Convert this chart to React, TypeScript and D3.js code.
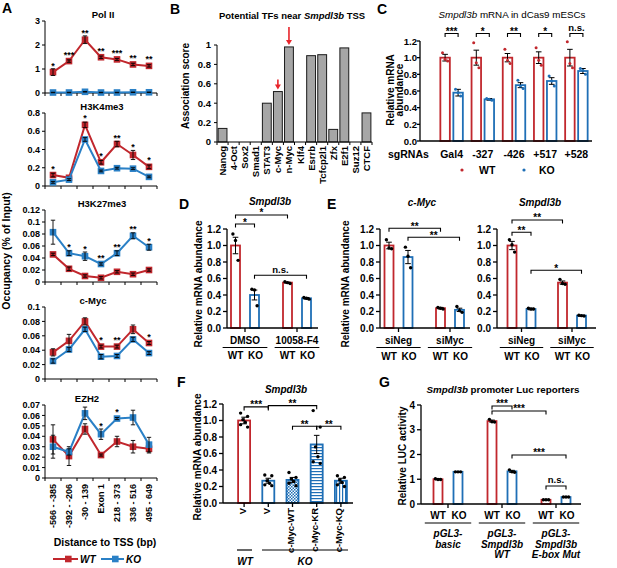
import React from "react";
import * as d3 from "d3";

const RED = "#c1272d";
const BLUE = "#1f6fb6";
const ABLUE = "#2a80c6";
const FONT = "'Liberation Sans', Arial, Helvetica, sans-serif";

// ---------- A: ChIP-qPCR along the promoter ----------
const distLabels = ["-566 - -385", "-392 - -206", "-30 - 139", "Exon 1", "218 - 373", "336 - 516", "495 - 649"];

const polWT = [0.87, 1.33, 2.22, 1.49, 1.4, 1.19, 1.13];
const polWTErr = [0.14, 0.05, 0.16, 0.05, 0.04, 0.05, 0.05];
const polKO = [0.02, 0.02, 0.05, 0.02, 0.02, 0.03, 0.03];
const polKOErr = [0.01, 0.01, 0.01, 0.01, 0.01, 0.01, 0.01];
const polStars = ["*", "***", "**", "**", "***", "**", "**"];

const k4WT = [0.12, 0.09, 0.67, 0.26, 0.46, 0.34, 0.21];
const k4WTErr = [0.02, 0.01, 0.03, 0.02, 0.03, 0.05, 0.02];
const k4KO = [0.04, 0.07, 0.51, 0.165, 0.195, 0.19, 0.1];
const k4KOErr = [0.01, 0.01, 0.02, 0.01, 0.01, 0.01, 0.01];
const k4Stars = ["*", "", "*", "*", "**", "*", "*"];

const k27WT = [0.046, 0.022, 0.01, 0.007, 0.017, 0.013, 0.02];
const k27WTErr = [0.002, 0.003, 0.002, 0.002, 0.002, 0.002, 0.002];
const k27KO = [0.083, 0.048, 0.043, 0.03, 0.048, 0.077, 0.058];
const k27KOErr = [0.02, 0.004, 0.007, 0.002, 0.004, 0.005, 0.005];
const k27Stars = ["", "*", "*", "**", "**", "**", "*"];

const mycWT = [0.037, 0.053, 0.08, 0.045, 0.045, 0.069, 0.05];
const mycWTErr = [0.005, 0.009, 0.005, 0.002, 0.002, 0.006, 0.002];
const mycKO = [0.025, 0.041, 0.069, 0.031, 0.032, 0.055, 0.036];
const mycKOErr = [0.003, 0.003, 0.003, 0.003, 0.002, 0.003, 0.002];
const mycStars = ["", "", "", "*", "**", "", "*"];

const ezhWT = [0.037, 0.021, 0.047, 0.022, 0.035, 0.03, 0.028];
const ezhWTErr = [0.014, 0.009, 0.005, 0.001, 0.005, 0.006, 0.004];
const ezhKO = [0.03, 0.025, 0.062, 0.042, 0.057, 0.058, 0.032];
const ezhKOErr = [0.011, 0.003, 0.006, 0.005, 0.001, 0.007, 0.007];
const ezhStars = ["", "", "", "*", "*", "", ""];

// ---------- B: association scores ----------
const tfNames = ["Nanog", "4-Oct", "Sox2", "Smad1", "STAT3", "c-Myc", "n-Myc", "Klf4", "Esrrb", "Tcfcp2l1", "Zfx", "E2f1", "Suz12", "CTCF"];
const tfScores = [0.14, 0, 0, 0, 0.4, 0.52, 0.98, 0, 0.89, 0.9, 0.13, 0.97, 0, 0.3];
const tfArrows = ["c-Myc", "n-Myc"];

// ---------- C: dCas9 sgRNAs ----------
const cGroups = ["Gal4", "-327", "-426", "+517", "+528"];
const cWT = [1, 1, 1, 1, 1];
const cWTErr = [0.04, 0.09, 0.05, 0.07, 0.1];
const cKO = [0.58, 0.5, 0.67, 0.72, 0.84];
const cKOErr = [0.04, 0.01, 0.03, 0.04, 0.03];
const cWTDots = [[1.06, 0.98, 0.96], [1.18, 0.94, 0.88], [1.1, 0.97, 0.93], [1.12, 0.97, 0.91], [1.19, 0.93, 0.88]];
const cKODots = [[0.62, 0.58, 0.54], [0.51, 0.5, 0.49], [0.73, 0.66, 0.63], [0.78, 0.72, 0.66], [0.87, 0.85, 0.8]];
const cSig = ["***", "*", "**", "*", "n.s."];

// ---------- D: 10058-F4 ----------
const dGroups = ["DMSO", "10058-F4"];
const dWT = [1.0, 0.55];
const dWTErr = [0.1, 0.006];
const dKO = [0.4, 0.36];
const dKOErr = [0.06, 0.01];
const dWTDots = [[1.14, 1.06, 0.82], [0.56, 0.55, 0.54]];
const dKODots = [[0.47, 0.46, 0.27], [0.37, 0.36, 0.35]];

// ---------- E: siRNA ----------
const eGroups = ["siNeg", "siMyc"];
const eMycWT = [1.0, 0.24];
const eMycWTErr = [0.04, 0.01];
const eMycKO = [0.86, 0.22];
const eMycKOErr = [0.08, 0.02];
const eMycWTDots = [[1.07, 0.97, 0.96], [0.25, 0.24, 0.23]];
const eMycKODots = [[0.98, 0.87, 0.73], [0.26, 0.21, 0.19]];
const eSmWT = [1.0, 0.55];
const eSmWTErr = [0.05, 0.02];
const eSmKO = [0.23, 0.15];
const eSmKOErr = [0.01, 0.005];
const eSmWTDots = [[1.07, 1.01, 0.92], [0.59, 0.54, 0.53]];
const eSmKODots = [[0.24, 0.23, 0.23], [0.155, 0.15, 0.145]];

// ---------- F: c-Myc rescue ----------
const fKeys = ["WT-V", "KO-V", "c-Myc-WT", "c-Myc-KR", "c-Myc-KQ"];
const fLabels = ["V", "V", "c-Myc-WT", "c-Myc-KR", "c-Myc-KQ"];
const fVals = [1.0, 0.27, 0.28, 0.71, 0.27];
const fErrs = [0.04, 0.03, 0.03, 0.11, 0.03];
const fDots = [
  [1.09, 1.05, 1.01, 0.98, 0.95, 0.92],
  [0.34, 0.33, 0.27, 0.24, 0.22, 0.21],
  [0.37, 0.31, 0.29, 0.26, 0.24, 0.21],
  [1.12, 0.92, 0.68, 0.56, 0.5, 0.48],
  [0.33, 0.31, 0.28, 0.25, 0.22, 0.2],
];

// ---------- G: luciferase ----------
const gGroups = ["basic", "WT", "Mut"];
const gNames = [["pGL3-", "basic"], ["pGL3-", "Smpdl3b", "WT"], ["pGL3-", "Smpdl3b", "E-box Mut"]];
const gWT = [1.0, 3.35, 0.17];
const gWTErr = [0.02, 0.04, 0.01];
const gKO = [1.3, 1.32, 0.28];
const gKOErr = [0.01, 0.04, 0.01];
const gWTDots = [[1.02, 0.99, 0.99], [3.42, 3.32, 3.31], [0.17, 0.17, 0.17]];
const gKODots = [[1.3, 1.3, 1.3], [1.38, 1.3, 1.28], [0.28, 0.28, 0.28]];

const fmtNum = (v) => String(+v.toFixed(3));

function ErrBar({ x, lo, hi, w = 2.6, sw = 1 }) {
  return (
    <g stroke="#000" strokeWidth={sw}>
      <line x1={x} x2={x} y1={lo} y2={hi} />
      <line x1={x - w} x2={x + w} y1={hi} y2={hi} />
      <line x1={x - w} x2={x + w} y1={lo} y2={lo} />
    </g>
  );
}

function ChipPanel({ title, wt, wtErr, ko, koErr, stars, max, nTicks, top, bottom, titleX, last }) {
  const x = d3.scaleBand().domain(distLabels).range([45, 157]);
  const cx = (i) => x(distLabels[i]) + x.bandwidth() / 2;
  const y = d3.scaleLinear().domain([0, max]).range([bottom, top]);
  const ticks = y.ticks(nTicks);
  const line = d3.line().x((_, i) => cx(i)).y((d) => y(d));
  const series = [
    { v: wt, e: wtErr, c: RED },
    { v: ko, e: koErr, c: ABLUE },
  ];
  return (
    <g>
      <text x={titleX} y={top - 3} textAnchor="middle" fontSize={9.5} fontWeight="bold">{title}</text>
      <line x1={45} x2={45} y1={bottom} y2={top} stroke="#000" />
      {ticks.map((t) => (
        <g key={t}>
          <line x1={42} x2={45} y1={y(t)} y2={y(t)} stroke="#000" />
          <text x={40} y={y(t) + 3.2} textAnchor="end" fontSize={9} fontWeight="bold">{fmtNum(t)}</text>
        </g>
      ))}
      <line x1={45} x2={157} y1={bottom} y2={bottom} stroke="#000" />
      {d3.range(distLabels.length + 1).map((i) => (
        <line key={i} x1={45 + i * x.step()} x2={45 + i * x.step()} y1={bottom} y2={bottom + 3} stroke="#000" />
      ))}
      {series.map((s) => (
        <g key={s.c}>
          <path d={line(s.v)} fill="none" stroke={s.c} strokeWidth={2} />
          {s.v.map((v, i) => (
            <rect key={i} x={cx(i) - 3.3} y={y(v) - 3.3} width={6.6} height={6.6} fill={s.c} />
          ))}
          {s.v.map((v, i) => (
            <ErrBar key={"e" + i} x={cx(i)} lo={y(v - s.e[i])} hi={y(v + s.e[i])} w={2.2} sw={0.9} />
          ))}
        </g>
      ))}
      {stars.map((s, i) => {
        const yt = Math.min(y(wt[i] + wtErr[i]), y(ko[i] + koErr[i]), y(Math.max(wt[i], ko[i])) - 3.5);
        return (
          <text key={i} x={cx(i)} y={yt} textAnchor="middle" fontSize={9} fontWeight="bold">{s}</text>
        );
      })}
      {last &&
        distLabels.map((d, i) => (
          <text key={d} transform={`translate(${cx(i) + 3.3},${bottom + 6}) rotate(-90)`} textAnchor="end" fontSize={9} fontWeight="bold">{d}</text>
        ))}
    </g>
  );
}

function PanelA() {
  const panels = [
    { title: "Pol II", wt: polWT, wtErr: polWTErr, ko: polKO, koErr: polKOErr, stars: polStars, max: 3, nTicks: 3, top: 21, bottom: 93, titleX: 103 },
    { title: "H3K4me3", wt: k4WT, wtErr: k4WTErr, ko: k4KO, koErr: k4KOErr, stars: k4Stars, max: 0.8, nTicks: 4, top: 113, bottom: 186, titleX: 102 },
    { title: "H3K27me3", wt: k27WT, wtErr: k27WTErr, ko: k27KO, koErr: k27KOErr, stars: k27Stars, max: 0.12, nTicks: 6, top: 210, bottom: 282, titleX: 102 },
    { title: "c-Myc", wt: mycWT, wtErr: mycWTErr, ko: mycKO, koErr: mycKOErr, stars: mycStars, max: 0.1, nTicks: 5, top: 307, bottom: 379, titleX: 93 },
    { title: "EZH2", wt: ezhWT, wtErr: ezhWTErr, ko: ezhKO, koErr: ezhKOErr, stars: ezhStars, max: 0.07, nTicks: 7, top: 405, bottom: 478, titleX: 87 },
  ];
  return (
    <g>
      <text x={2} y={13} fontSize={14} fontWeight="bold">A</text>
      {panels.map((p, i) => (
        <ChipPanel key={p.title} {...p} last={i === panels.length - 1} />
      ))}
      <text transform="translate(10,251) rotate(-90)" textAnchor="middle" fontSize={10.5} fontWeight="bold">Occupancy (% of Input)</text>
      <text x={105} y={546} textAnchor="middle" fontSize={10.5} fontWeight="bold">Distance to TSS (bp)</text>
      <line x1={53} x2={78} y1={559} y2={559} stroke={RED} strokeWidth={2} />
      <rect x={65} y={555.7} width={6.6} height={6.6} fill={RED} />
      <text x={80} y={563} fontSize={10} fontWeight="bold" fontStyle="italic">WT</text>
      <line x1={101} x2={124} y1={559} y2={559} stroke={ABLUE} strokeWidth={2} />
      <rect x={112} y={555.7} width={6.6} height={6.6} fill={ABLUE} />
      <text x={126} y={563} fontSize={10} fontWeight="bold" fontStyle="italic">KO</text>
    </g>
  );
}

function PanelB() {
  const x = d3.scaleBand().domain(tfNames).range([217, 372]).paddingInner(0.2).paddingOuter(0.1);
  const y = d3.scaleLinear().domain([0, 1]).range([142, 45]);
  const cx = (n) => x(n) + x.bandwidth() / 2;
  return (
    <g>
      <text x={170} y={14} fontSize={14} fontWeight="bold">B</text>
      <text x={292} y={19} textAnchor="middle" fontSize={9.5} fontWeight="bold">
        Potential TFs near <tspan fontStyle="italic">Smpdl3b</tspan> TSS
      </text>
      <text transform="translate(189,86) rotate(-90)" textAnchor="middle" fontSize={10} fontWeight="bold">Association score</text>
      <line x1={217} x2={217} y1={142} y2={45} stroke="#000" />
      {y.ticks(5).map((t) => (
        <g key={t}>
          <line x1={214} x2={217} y1={y(t)} y2={y(t)} stroke="#000" />
          <text x={211} y={y(t) + 3.3} textAnchor="end" fontSize={9.5} fontWeight="bold">{fmtNum(t)}</text>
        </g>
      ))}
      {tfNames.map((n, i) =>
        tfScores[i] > 0 ? (
          <rect key={n} x={x(n)} y={y(tfScores[i])} width={x.bandwidth()} height={y(0) - y(tfScores[i])} fill="#a6a6a6" stroke="#1a1a1a" strokeWidth={1} />
        ) : null
      )}
      <line x1={217} x2={372} y1={142} y2={142} stroke="#000" />
      {d3.range(tfNames.length + 1).map((i) => (
        <line key={i} x1={217 + x.step() * i} x2={217 + x.step() * i} y1={142} y2={145} stroke="#000" />
      ))}
      {tfNames.map((n) => (
        <text key={n} transform={`translate(${cx(n) + 3.5},146) rotate(-90)`} textAnchor="end" fontSize={9.5} fontWeight="bold">{n}</text>
      ))}
      {tfArrows.map((n, k) => {
        const v = tfScores[tfNames.indexOf(n)];
        const tip = y(v) - 2;
        const len = k === 0 ? 10 : 18;
        return (
          <g key={n}>
            <line x1={cx(n)} x2={cx(n)} y1={tip - len} y2={tip - 4} stroke="#e8252b" strokeWidth={1.6} />
            <path d={`M${cx(n) - 3},${tip - 5}L${cx(n) + 3},${tip - 5}L${cx(n)},${tip}Z`} fill="#e8252b" />
          </g>
        );
      })}
    </g>
  );
}

function dotOffset(n, j) {
  if (n <= 3) return [-2.6, 0, 2.6][j] ?? 0;
  return [-3.5, 3.5, -1.2, 1.2, -3.5, 3.5][j] ?? 0;
}

function Bars({ groups, series, xRange, offset, barW, yBottom, yTop, yMax, tickVals, tickFmt, axisX, axisEnd, brackets, groupTicks = true, dotR = 1.7, tickLen = 4, labelGap = 6, tickFont = 10 }) {
  const x = d3.scaleBand().domain(groups).range(xRange);
  const bw = x.bandwidth();
  const n = series.length;
  const xs = d3.scaleBand().domain(series.map((s) => s.name)).range([bw / 2 - n * offset, bw / 2 + n * offset]);
  const cx = (g, s) => x(g) + xs(s) + xs.bandwidth() / 2;
  const y = d3.scaleLinear().domain([0, yMax]).range([yBottom, yTop]);
  return (
    <g>
      {series.map((s) =>
        groups.map((g, gi) => {
          const c = cx(g, s.name);
          const v = s.values[gi];
          const stroke = Array.isArray(s.stroke) ? s.stroke[gi] : s.stroke;
          const fill = s.fill ? s.fill[gi] : "#fff";
          return (
            <g key={s.name + g}>
              <rect x={c - barW / 2} y={y(v)} width={barW} height={y(0) - y(v)} fill={fill} stroke={stroke} strokeWidth={1.8} />
              <ErrBar x={c} lo={y(v - s.errs[gi])} hi={y(v + s.errs[gi])} w={2.8} sw={1} />
              {s.dots[gi].map((d, j) => (
                <circle key={j} cx={c + dotOffset(s.dots[gi].length, j)} cy={y(d)} r={dotR} fill={s.dotColor} />
              ))}
            </g>
          );
        })
      )}
      <line x1={axisX} x2={axisX} y1={y(0)} y2={y(yMax)} stroke="#000" strokeWidth={1.3} />
      {tickVals.map((t) => (
        <g key={t}>
          <line x1={axisX - tickLen} x2={axisX} y1={y(t)} y2={y(t)} stroke="#000" strokeWidth={1.3} />
          <text x={axisX - labelGap} y={y(t) + 3.5} textAnchor="end" fontSize={tickFont} fontWeight="bold">{tickFmt(t)}</text>
        </g>
      ))}
      <line x1={axisX} x2={axisEnd} y1={y(0)} y2={y(0)} stroke="#000" strokeWidth={1.3} />
      {groupTicks &&
        groups.map((g) => (
          <line key={g} x1={x(g) + bw / 2} x2={x(g) + bw / 2} y1={y(0)} y2={y(0) + 4} stroke="#000" strokeWidth={1.3} />
        ))}
      {brackets.map((b, i) => {
        const x1 = cx(b.from[0], b.from[1]);
        const x2 = cx(b.to[0], b.to[1]);
        const yy = y(b.at);
        const ns = b.label === "n.s.";
        return (
          <g key={i}>
            <path d={`M${x1},${yy + 3.5}V${yy}H${x2}V${yy + 3.5}`} fill="none" stroke="#000" strokeWidth={1.1} />
            <text x={(x1 + x2) / 2} y={ns ? yy - 2.5 : yy + 1.5} textAnchor="middle" fontSize={ns ? 9.5 : 10} fontWeight="bold">{b.label}</text>
          </g>
        );
      })}
    </g>
  );
}

const f1 = d3.format(".1f");
const tick12 = [0, 0.2, 0.4, 0.6, 0.8, 1.0, 1.2];

function PanelC() {
  const series = [
    { name: "WT", stroke: RED, values: cWT, errs: cWTErr, dots: cWTDots, dotColor: RED },
    { name: "KO", stroke: BLUE, values: cKO, errs: cKOErr, dots: cKODots, dotColor: BLUE },
  ];
  const brackets = cGroups.map((g, i) => ({ from: [g, "WT"], to: [g, "KO"], at: 1.29, label: cSig[i] }));
  const x = d3.scaleBand().domain(cGroups).range([436, 592]);
  return (
    <g>
      <text x={377} y={14} fontSize={14} fontWeight="bold">C</text>
      <text x={512} y={18} textAnchor="middle" fontSize={9.8}>
        <tspan fontStyle="italic">Smpdl3b</tspan> mRNA in dCas9 mESCs
      </text>
      <text transform="translate(393.5,90) rotate(-90)" textAnchor="middle" fontSize={10} fontWeight="bold">Relative mRNA</text>
      <text transform="translate(402.5,90) rotate(-90)" textAnchor="middle" fontSize={10} fontWeight="bold">abundance</text>
      <Bars groups={cGroups} series={series} xRange={[436, 592]} offset={6.5} barW={9.5} yBottom={141} yTop={41} yMax={1.2}
        tickVals={tick12} tickFmt={f1} axisX={420} axisEnd={592} brackets={brackets} groupTicks={false} dotR={1.5}
        tickLen={3} labelGap={3} tickFont={9.6} />
      <text x={388} y={158} fontSize={10.5} fontWeight="bold">sgRNAs</text>
      {cGroups.map((g) => (
        <text key={g} x={x(g) + x.bandwidth() / 2} y={158} textAnchor="middle" fontSize={10.5} fontWeight="bold">{g}</text>
      ))}
      <circle cx={462} cy={170} r={1.6} fill={RED} />
      <text x={479} y={173.5} fontSize={10.5} fontWeight="bold">WT</text>
      <circle cx={524} cy={170} r={1.6} fill={BLUE} />
      <text x={539} y={173.5} fontSize={10.5} fontWeight="bold">KO</text>
    </g>
  );
}

function GroupLabels({ groups, xRange, yLab, yLine, yWK, subOffset }) {
  const x = d3.scaleBand().domain(groups).range(xRange);
  const bw = x.bandwidth();
  return (
    <g fontSize={10} fontWeight="bold">
      {groups.map((g) => {
        const c = x(g) + bw / 2;
        return (
          <g key={g}>
            {yLab != null && <text x={c} y={yLab} textAnchor="middle">{g}</text>}
            <line x1={c - bw * 0.43} x2={c + bw * 0.43} y1={yLine} y2={yLine} stroke="#000" strokeWidth={1.2} />
            <text x={c - subOffset} y={yWK} textAnchor="middle">WT</text>
            <text x={c + subOffset + 1} y={yWK} textAnchor="middle">KO</text>
          </g>
        );
      })}
    </g>
  );
}

function PanelD() {
  const series = [
    { name: "WT", stroke: RED, values: dWT, errs: dWTErr, dots: dWTDots, dotColor: "#000" },
    { name: "KO", stroke: BLUE, values: dKO, errs: dKOErr, dots: dKODots, dotColor: "#000" },
  ];
  const brackets = [
    { from: ["DMSO", "WT"], to: ["DMSO", "KO"], at: 1.26, label: "*" },
    { from: ["DMSO", "WT"], to: ["10058-F4", "WT"], at: 1.37, label: "*" },
    { from: ["DMSO", "KO"], to: ["10058-F4", "KO"], at: 0.64, label: "n.s." },
  ];
  return (
    <g>
      <text x={179} y={209} fontSize={14} fontWeight="bold">D</text>
      <text x={270} y={205} textAnchor="middle" fontSize={10} fontWeight="bold" fontStyle="italic">Smpdl3b</text>
      <text transform="translate(202,284) rotate(-90)" textAnchor="middle" fontSize={10} fontWeight="bold">Relative mRNA abundance</text>
      <Bars groups={dGroups} series={series} xRange={[219, 323]} offset={9.5} barW={9} yBottom={328} yTop={229} yMax={1.2}
        tickVals={tick12} tickFmt={f1} axisX={227} axisEnd={318} brackets={brackets} />
      <GroupLabels groups={dGroups} xRange={[219, 323]} yLab={344} yLine={347.5} yWK={359} subOffset={9.5} />
    </g>
  );
}

function PanelE() {
  const sMyc = [
    { name: "WT", stroke: RED, values: eMycWT, errs: eMycWTErr, dots: eMycWTDots, dotColor: "#000" },
    { name: "KO", stroke: BLUE, values: eMycKO, errs: eMycKOErr, dots: eMycKODots, dotColor: "#000" },
  ];
  const sSm = [
    { name: "WT", stroke: RED, values: eSmWT, errs: eSmWTErr, dots: eSmWTDots, dotColor: "#000" },
    { name: "KO", stroke: BLUE, values: eSmKO, errs: eSmKOErr, dots: eSmKODots, dotColor: "#000" },
  ];
  const bMyc = [
    { from: ["siNeg", "WT"], to: ["siMyc", "WT"], at: 1.21, label: "**" },
    { from: ["siNeg", "KO"], to: ["siMyc", "KO"], at: 1.1, label: "**" },
  ];
  const bSm = [
    { from: ["siNeg", "WT"], to: ["siNeg", "KO"], at: 1.16, label: "**" },
    { from: ["siNeg", "WT"], to: ["siMyc", "WT"], at: 1.31, label: "**" },
    { from: ["siNeg", "KO"], to: ["siMyc", "KO"], at: 0.7, label: "*" },
  ];
  return (
    <g>
      <text x={327} y={209} fontSize={14} fontWeight="bold">E</text>
      <text transform="translate(349,284) rotate(-90)" textAnchor="middle" fontSize={10} fontWeight="bold">Relative mRNA abundance</text>
      <text x={422} y={206} textAnchor="middle" fontSize={10} fontWeight="bold" fontStyle="italic">c-Myc</text>
      <Bars groups={eGroups} series={sMyc} xRange={[372.75, 475.75]} offset={9.5} barW={9} yBottom={328} yTop={229} yMax={1.2}
        tickVals={tick12} tickFmt={f1} axisX={380} axisEnd={470} brackets={bMyc} />
      <GroupLabels groups={eGroups} xRange={[372.75, 475.75]} yLab={344} yLine={347.5} yWK={360} subOffset={9.5} />
      <text x={540} y={206} textAnchor="middle" fontSize={10} fontWeight="bold" fontStyle="italic">Smpdl3b</text>
      <Bars groups={eGroups} series={sSm} xRange={[496.25, 597.25]} offset={9.5} barW={9} yBottom={328} yTop={229} yMax={1.2}
        tickVals={tick12} tickFmt={f1} axisX={497} axisEnd={596} brackets={bSm} />
      <GroupLabels groups={eGroups} xRange={[496.25, 597.25]} yLab={344} yLine={347.5} yWK={360} subOffset={9.5} />
    </g>
  );
}

function PanelF() {
  const series = [
    {
      name: "all",
      stroke: [RED, BLUE, BLUE, BLUE, BLUE],
      fill: ["#fff", "#fff", "url(#chk)", "url(#hs)", "url(#vs)"],
      values: fVals,
      errs: fErrs,
      dots: fDots,
      dotColor: "#000",
    },
  ];
  const brackets = [
    { from: ["WT-V", "all"], to: ["KO-V", "all"], at: 1.165, label: "***" },
    { from: ["KO-V", "all"], to: ["c-Myc-KR", "all"], at: 1.18, label: "**" },
    { from: ["c-Myc-WT", "all"], to: ["c-Myc-KR", "all"], at: 0.93, label: "**" },
    { from: ["c-Myc-KR", "all"], to: ["c-Myc-KQ", "all"], at: 0.93, label: "**" },
  ];
  const x = d3.scaleBand().domain(fKeys).range([232, 353]);
  const cx = (k) => x(k) + x.bandwidth() / 2;
  return (
    <g>
      <text x={177} y={387} fontSize={14} fontWeight="bold">F</text>
      <text x={286} y={393} textAnchor="middle" fontSize={10} fontWeight="bold" fontStyle="italic">Smpdl3b</text>
      <text transform="translate(201,457) rotate(-90)" textAnchor="middle" fontSize={10} fontWeight="bold">Relative mRNA abundance</text>
      <Bars groups={fKeys} series={series} xRange={[232, 353]} offset={6} barW={12} yBottom={503} yTop={404} yMax={1.2}
        tickVals={tick12} tickFmt={f1} axisX={223} axisEnd={353} brackets={brackets} />
      {fKeys.map((k, i) => (
        <text key={k} transform={`translate(${cx(k) + 1.5},508) rotate(-90)`} textAnchor="end" fontSize={9.5} fontWeight="bold">{fLabels[i]}</text>
      ))}
      <line x1={237} x2={252} y1={550} y2={550} stroke="#000" strokeWidth={1.2} />
      <line x1={262} x2={348} y1={550} y2={550} stroke="#000" strokeWidth={1.2} />
      <text x={245} y={565} textAnchor="middle" fontSize={10} fontWeight="bold" fontStyle="italic">WT</text>
      <text x={305} y={565} textAnchor="middle" fontSize={10} fontWeight="bold" fontStyle="italic">KO</text>
    </g>
  );
}

function PanelG() {
  const series = [
    { name: "WT", stroke: RED, values: gWT, errs: gWTErr, dots: gWTDots, dotColor: "#000" },
    { name: "KO", stroke: BLUE, values: gKO, errs: gKOErr, dots: gKODots, dotColor: "#000" },
  ];
  const brackets = [
    { from: ["WT", "WT"], to: ["WT", "KO"], at: 3.96, label: "***" },
    { from: ["WT", "WT"], to: ["Mut", "WT"], at: 3.76, label: "***" },
    { from: ["WT", "KO"], to: ["Mut", "KO"], at: 1.98, label: "***" },
    { from: ["Mut", "WT"], to: ["Mut", "KO"], at: 0.73, label: "n.s." },
  ];
  const x = d3.scaleBand().domain(gGroups).range([421, 583]);
  return (
    <g>
      <text x={379} y={387} fontSize={14} fontWeight="bold">G</text>
      <text x={503} y={393} textAnchor="middle" fontSize={9.8} fontWeight="bold">
        <tspan fontStyle="italic">Smpdl3b</tspan> promoter Luc reporters
      </text>
      <text transform="translate(406,456) rotate(-90)" textAnchor="middle" fontSize={10} fontWeight="bold">Relative LUC activity</text>
      <Bars groups={gGroups} series={series} xRange={[421, 583]} offset={10} barW={9} yBottom={504} yTop={405} yMax={4}
        tickVals={[0, 1, 2, 3, 4]} tickFmt={d3.format("d")} axisX={421} axisEnd={581} brackets={brackets} />
      <GroupLabels groups={gGroups} xRange={[421, 583]} yLab={null} yLine={523} yWK={519} subOffset={10} />
      {gGroups.map((g, gi) => (
        <g key={g} fontSize={10} fontWeight="bold" fontStyle="italic">
          {gNames[gi].map((t, k) => (
            <text key={k} x={x(g) + x.bandwidth() / 2} y={537 + k * 10.5} textAnchor="middle">{t}</text>
          ))}
        </g>
      ))}
    </g>
  );
}

export default function App() {
  return (
    <svg width={617} height={568} viewBox="0 0 617 568" fontFamily={FONT}
      style={{ position: "absolute", left: 0, top: 0, background: "#fff" }}>
      <defs>
        <pattern id="chk" width={3} height={3} patternUnits="userSpaceOnUse">
          <rect width={3} height={3} fill="#fff" />
          <rect width={1.5} height={1.5} fill={BLUE} />
          <rect x={1.5} y={1.5} width={1.5} height={1.5} fill={BLUE} />
        </pattern>
        <pattern id="hs" width={3} height={3} patternUnits="userSpaceOnUse">
          <rect width={3} height={3} fill="#fff" />
          <rect width={3} height={1.2} fill={BLUE} />
        </pattern>
        <pattern id="vs" width={3} height={3} patternUnits="userSpaceOnUse">
          <rect width={3} height={3} fill="#fff" />
          <rect width={1.2} height={3} fill={BLUE} />
        </pattern>
      </defs>
      <PanelA />
      <PanelB />
      <PanelC />
      <PanelD />
      <PanelE />
      <PanelF />
      <PanelG />
    </svg>
  );
}
